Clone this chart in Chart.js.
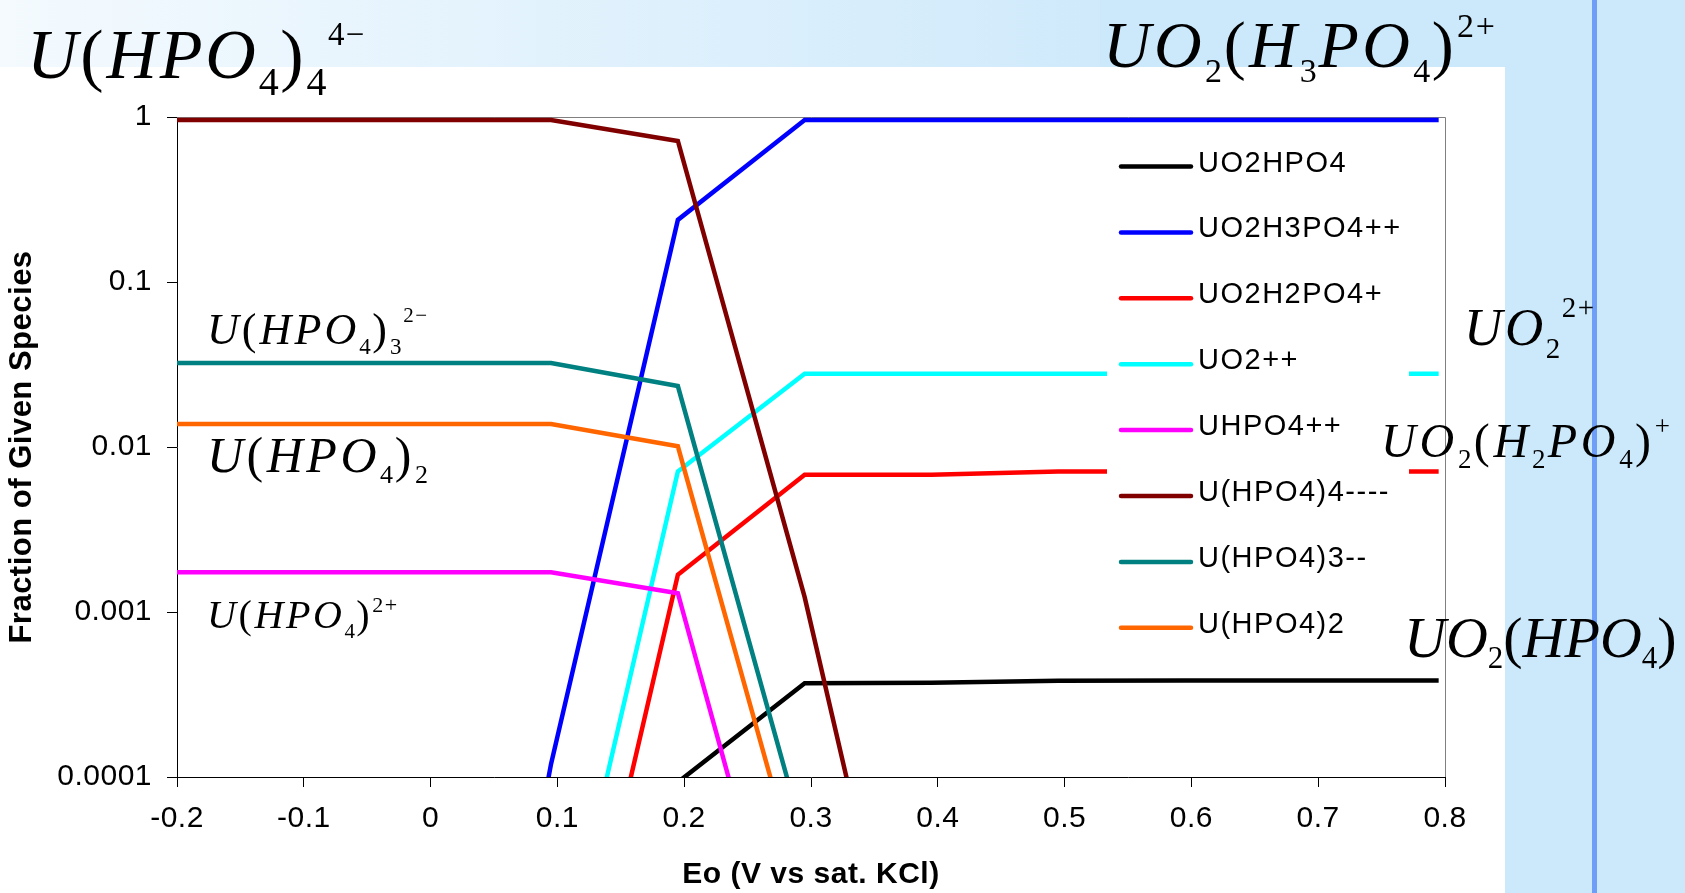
<!DOCTYPE html>
<html>
<head>
<meta charset="utf-8">
<script src="https://cdn.jsdelivr.net/npm/chart.js@4"></script>
<style>
  html, body { margin: 0; padding: 0; background: #fff; }
  canvas { display: block; }
</style>
</head>
<body>
<canvas id="chart" width="1685" height="893"></canvas>
<script>
// Eo (V vs sat. KCl) where the speciation was computed
const eo = [-0.205, -0.105, -0.005, 0.095, 0.195, 0.295, 0.395, 0.495, 0.595, 0.695, 0.795];

// fraction of each species
const uo2hpo4   = [1e-9, 1e-8, 1e-7, 1e-6, 9.3e-5, 3.7e-4, 3.72e-4, 3.83e-4, 3.84e-4, 3.84e-4, 3.84e-4];
const uo2h3po4  = [1e-10, 1e-9, 1e-8, 1.2e-4, 0.238, 0.96, 0.96, 0.96, 0.96, 0.96, 0.96];
const uo2h2po4  = [1e-10, 1e-9, 1e-8, 8.3e-7, 0.00168, 0.0068, 0.0068, 0.0071, 0.0071, 0.0071, 0.0071];
const uo2       = [1e-10, 1e-9, 1e-8, 3.5e-6, 0.0071, 0.0278, 0.0278, 0.0278, 0.0278, 0.0278, 0.0278];
const uhpo4     = [0.00174, 0.00174, 0.00174, 0.00174, 0.0013, 2.1e-6, 1e-8, 1e-9, 1e-10, 1e-11, 1e-12];
const uhpo4_4   = [0.96, 0.96, 0.96, 0.96, 0.716, 0.00123, 6e-7, 1e-9, 1e-10, 1e-11, 1e-12];
const uhpo4_3   = [0.0323, 0.0323, 0.0323, 0.0323, 0.0234, 4.1e-5, 1e-8, 1e-9, 1e-10, 1e-11, 1e-12];
const uhpo4_2   = [0.0138, 0.0138, 0.0138, 0.0138, 0.0101, 1.8e-5, 1e-8, 1e-9, 1e-10, 1e-11, 1e-12];

const labels = ['UO2HPO4', 'UO2H3PO4++', 'UO2H2PO4+', 'UO2++', 'UHPO4++', 'U(HPO4)4----', 'U(HPO4)3--', 'U(HPO4)2'];
const colors = ['#000000', '#0000ff', '#ff0000', '#00ffff', '#ff00ff', '#800000', '#008080', '#ff6600'];
const series = [uo2hpo4, uo2h3po4, uo2h2po4, uo2, uhpo4, uhpo4_4, uhpo4_3, uhpo4_2];

const yTicks = [1, 0.1, 0.01, 0.001, 0.0001];

// formula labels written on the slide
const formulas = [
    { text: 'U(HPO_4)_4^{4−}', x: 27, y: 78, size: 70, sub: 40, subDy: 17, sup: 33, supDy: -33, gap: 0.04 },
    { text: 'UO_2(H_3PO_4)^{2+}', x: 1103, y: 67, size: 66, sub: 34, subDy: 15, sup: 34, supDy: -30, gap: 0.05 },
    { text: 'UO_2^{2+}', x: 1464, y: 345, size: 53, sub: 29, subDy: 13, sup: 29, supDy: -28, gap: 0.05 },
    { text: 'UO_2(H_2PO_4)^{+}', x: 1381, y: 457, size: 48, sub: 27, subDy: 11, sup: 27, supDy: -22, gap: 0.08 },
    { text: 'UO_2(HPO_4)', x: 1404, y: 657, size: 58, sub: 31, subDy: 11, sup: 31, supDy: -25, gap: 0 },
    { text: 'U(HPO_4)_3^{2−}', x: 207, y: 344, size: 44, sub: 23, subDy: 10, sup: 21, supDy: -22, gap: 0.07 },
    { text: 'U(HPO_4)_2', x: 207, y: 472, size: 50, sub: 26, subDy: 11, sup: 26, supDy: -22, gap: 0.07 },
    { text: 'U(HPO_4)^{2+}', x: 207, y: 628, size: 40, sub: 21, subDy: 10, sup: 22, supDy: -16, gap: 0.065 }
];

function parseFormula(s) {
    const out = [];
    let i = 0;
    while (i < s.length) {
        if (s[i] === '_' || s[i] === '^') {
            const kind = s[i] === '_' ? 'sub' : 'sup';
            i++;
            if (s[i] === '{') {
                const j = s.indexOf('}', i);
                out.push({ kind, text: s.slice(i + 1, j) });
                i = j + 1;
            } else {
                out.push({ kind, text: s[i] });
                i++;
            }
            continue;
        }
        out.push({ kind: 'n', text: s[i] });
        i++;
    }
    return out;
}

function drawFormula(ctx, f) {
    let x = f.x;
    ctx.fillStyle = '#000';
    ctx.textBaseline = 'alphabetic';
    ctx.textAlign = 'left';
    ctx.letterSpacing = '0px';
    parseFormula(f.text).forEach(t => {
        const size = t.kind === 'sub' ? f.sub : t.kind === 'sup' ? f.sup : f.size;
        const dy = t.kind === 'sub' ? f.subDy : t.kind === 'sup' ? f.supDy : 0;
        for (const ch of t.text) {
            const italic = /[A-Z]/.test(ch);
            ctx.font = (italic ? 'italic ' : '') + size + 'px "Liberation Serif", "Times New Roman", serif';
            ctx.fillText(ch, x, f.y + dy);
            x += ctx.measureText(ch).width + size * f.gap;
        }
    });
}

// slide background: light blue band on top and right, white panel under the chart
const backdrop = {
    id: 'backdrop',
    beforeDraw(chart) {
        const ctx = chart.ctx;
        ctx.save();
        const g = ctx.createLinearGradient(0, 0, 1150, 0);
        g.addColorStop(0, '#f4fafe');
        g.addColorStop(1, '#cee9fb');
        ctx.fillStyle = g;
        ctx.fillRect(0, 0, 1685, 67);
        ctx.fillStyle = '#cce9fb';
        ctx.fillRect(1100, 0, 585, 67);
        ctx.fillRect(1505, 0, 180, 893);
        ctx.fillStyle = '#ffffff';
        ctx.fillRect(0, 67, 1505, 826);
        ctx.fillStyle = '#6e9ef8';
        ctx.fillRect(1592, 0, 5, 893);
        ctx.restore();
        // slightly looser text, like the slide
        ctx.letterSpacing = '0.5px';
    },
    beforeDatasetsDraw(chart) {
        const { ctx, chartArea: a } = chart;
        ctx.save();
        ctx.strokeStyle = '#808080';
        ctx.lineWidth = 1;
        ctx.beginPath();
        ctx.moveTo(a.left, a.top + 0.5);
        ctx.lineTo(a.right + 0.5, a.top + 0.5);
        ctx.lineTo(a.right + 0.5, a.bottom);
        ctx.stroke();
        ctx.restore();
    }
};

// legend box sitting inside the plot, like the Excel one
const boxLegend = {
    id: 'boxLegend',
    afterDatasetsDraw(chart) {
        const ctx = chart.ctx;
        ctx.save();
        ctx.fillStyle = '#ffffff';
        ctx.fillRect(1107, 135, 302, 527);
        ctx.font = '29px "Liberation Sans", Arial, sans-serif';
        ctx.textBaseline = 'middle';
        ctx.textAlign = 'left';
        ctx.letterSpacing = '1.5px';
        chart.data.datasets.forEach((ds, i) => {
            const y = 166.5 + i * 65.9;
            ctx.strokeStyle = ds.borderColor;
            ctx.lineWidth = 4.5;
            ctx.lineCap = 'round';
            ctx.beginPath();
            ctx.moveTo(1121, y);
            ctx.lineTo(1191, y);
            ctx.stroke();
            ctx.fillStyle = '#000';
            ctx.fillText(ds.label, 1198, y - 3);
        });
        ctx.restore();
    },
    afterDraw(chart) {
        const ctx = chart.ctx;
        ctx.save();
        formulas.forEach(f => drawFormula(ctx, f));
        ctx.restore();
        ctx.letterSpacing = '0px';
    }
};

const sans = '"Liberation Sans", Arial, sans-serif';

new Chart(document.getElementById('chart'), {
    type: 'line',
    data: {
        datasets: series.map((vals, i) => ({
            label: labels[i],
            data: vals.map((v, k) => ({ x: eo[k], y: v })),
            borderColor: colors[i],
            backgroundColor: colors[i],
            borderWidth: 4.5,
            pointRadius: 0,
            tension: 0,
            order: series.length - i,
            clip: { left: 0, top: 5, right: 5, bottom: 0 }
        }))
    },
    options: {
        responsive: false,
        animation: false,
        devicePixelRatio: 1,
        layout: { padding: { top: 117, right: 240, left: 0, bottom: 0 } },
        plugins: {
            legend: { display: false },
            tooltip: { enabled: false }
        },
        scales: {
            x: {
                type: 'linear',
                min: -0.2,
                max: 0.8,
                afterFit: s => { s.height = 116; },
                ticks: {
                    stepSize: 0.1,
                    padding: 14,
                    color: '#000',
                    font: { family: sans, size: 30 },
                    callback: v => String(Math.round(v * 10) / 10)
                },
                grid: { drawOnChartArea: false, tickLength: 10, color: '#000' },
                border: { color: '#000', width: 1 },
                title: {
                    display: true,
                    text: 'Eo (V vs sat. KCl)',
                    color: '#000',
                    font: { family: sans, size: 30, weight: 'bold' },
                    padding: 0
                }
            },
            y: {
                type: 'logarithmic',
                min: 0.0001,
                max: 1,
                afterFit: s => { s.width = 177; },
                afterBuildTicks: s => { s.ticks = yTicks.map(v => ({ value: v })); },
                ticks: {
                    padding: 15,
                    color: '#000',
                    font: { family: sans, size: 30 },
                    callback: v => String(v)
                },
                grid: { drawOnChartArea: false, tickLength: 10, color: '#000' },
                border: { color: '#000', width: 1 },
                title: {
                    display: true,
                    text: 'Fraction of Given Species',
                    color: '#000',
                    font: { family: sans, size: 31, weight: 'bold' },
                    padding: { top: 4 }
                }
            }
        }
    },
    plugins: [backdrop, boxLegend]
});
</script>
</body>
</html>
